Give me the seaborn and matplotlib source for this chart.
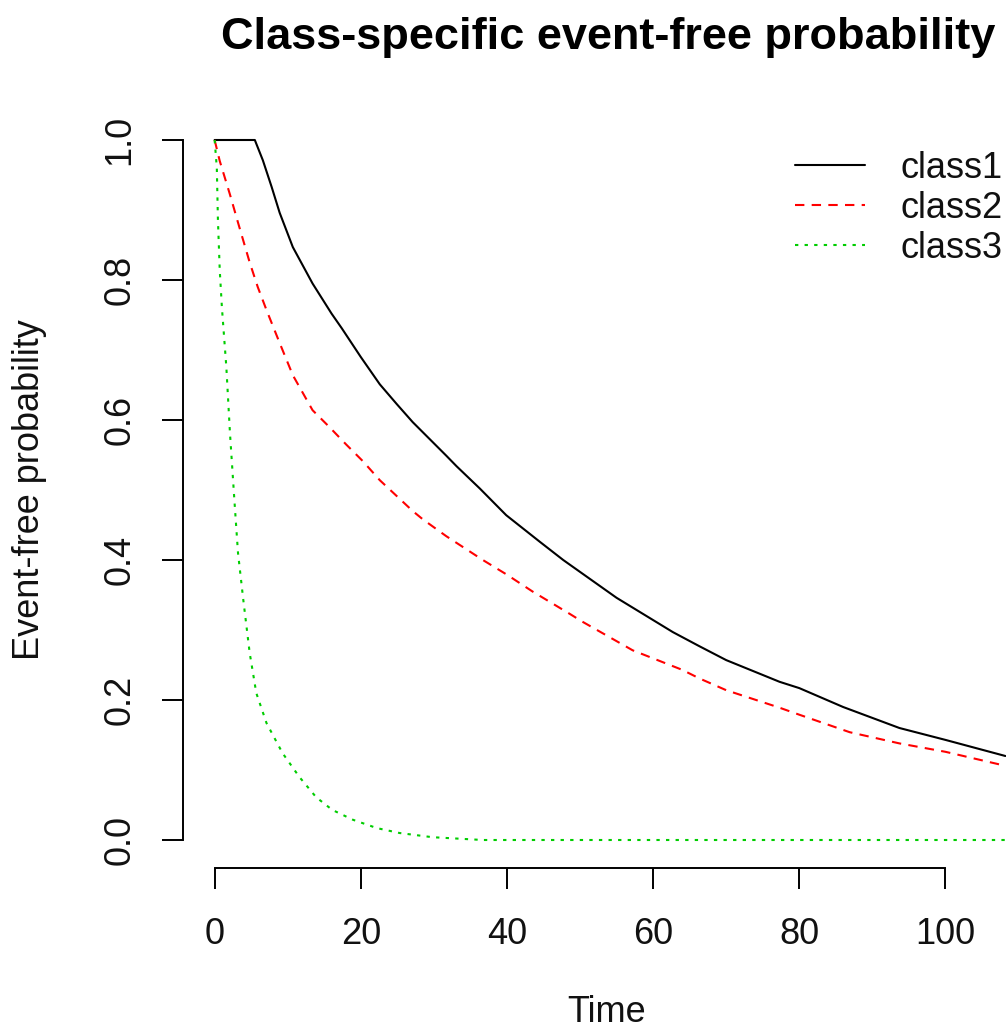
import matplotlib
matplotlib.use("Agg")
import matplotlib.pyplot as plt
from matplotlib.lines import Line2D
import numpy as np
import pandas as pd
import seaborn as sns

# Event-free probability curves per latent class
class1_time = [0, 5.5, 6.6, 7.8, 8.9, 10.7, 13.4, 16.0, 17.4, 20.0, 22.6, 24.9, 27.1,
               31.7, 33.1, 36.3, 39.9, 44.5, 47.7, 55.0, 62.7, 66.3, 70.0, 77.3, 80.0,
               86.0, 93.7, 100.0, 108.2]
class1_prob = [1.0, 1.0, 0.971, 0.933, 0.896, 0.847, 0.795, 0.752, 0.731, 0.690, 0.651,
               0.623, 0.597, 0.549, 0.534, 0.502, 0.464, 0.426, 0.400, 0.346, 0.297,
               0.277, 0.257, 0.226, 0.217, 0.190, 0.160, 0.143, 0.120]

class2_time = [0, 0.7, 2.1, 3.2, 4.8, 5.9, 7.1, 8.9, 10.7, 13.4, 15.7, 18.0, 20.3, 22.6,
               27.1, 28.5, 31.7, 36.7, 40.0, 43.5, 48.6, 50.3, 57.2, 64.0, 66.3, 70.0,
               77.3, 80.0, 86.9, 93.7, 100.0, 108.2]
class2_prob = [1.0, 0.970, 0.922, 0.882, 0.825, 0.790, 0.757, 0.710, 0.664, 0.614, 0.590,
               0.565, 0.541, 0.514, 0.470, 0.458, 0.434, 0.400, 0.379, 0.355, 0.323,
               0.312, 0.271, 0.243, 0.231, 0.214, 0.189, 0.179, 0.154, 0.138, 0.126,
               0.106]

class3_time = [0, 0.3, 0.45, 0.7, 1.0, 1.6, 2.1, 2.7, 3.2, 3.9, 4.8, 5.7, 7.1, 9.3, 11.6,
               13.9, 16.1, 18.9, 22.2, 25.3, 29.8, 36.7, 108.2]
class3_prob = [1.0, 0.960, 0.886, 0.814, 0.760, 0.676, 0.581, 0.486, 0.410, 0.345, 0.267,
               0.210, 0.167, 0.124, 0.090, 0.061, 0.043, 0.029, 0.017, 0.010, 0.004,
               0.0, 0.0]

class_names = ["class1", "class2", "class3"]
class_colors = ["#000000", "#FF0000", "#00CD00"]
class_dashes = [None, (4.5, 3.5), (1.6, 3.0)]

x_ticks = [0, 20, 40, 60, 80, 100]
y_ticks = [0.0, 0.2, 0.4, 0.6, 0.8, 1.0]
y_ticklabels = ["0.0", "0.2", "0.4", "0.6", "0.8", "1.0"]

frames = []
for name, t, p in zip(class_names,
                      [class1_time, class2_time, class3_time],
                      [class1_prob, class2_prob, class3_prob]):
    frames.append(pd.DataFrame({"time": t, "prob": p, "cls": name}))
df = pd.concat(frames, ignore_index=True)

sns.set_style("white")
plt.rcParams["font.family"] = ["Liberation Sans", "DejaVu Sans"]

W, H = 1006, 1028
fig = plt.figure(figsize=(W / 100, H / 100), dpi=100)
ax_left, ax_right, ax_top, ax_bottom = 183, 1037, 112, 868
ax = fig.add_axes([ax_left / W, 1 - ax_bottom / H,
                   (ax_right - ax_left) / W, (ax_bottom - ax_top) / H])

lw = 1.5
for name, col, dsh in zip(class_names, class_colors, class_dashes):
    sub = df[df["cls"] == name]
    sns.lineplot(data=sub, x="time", y="prob", ax=ax, color=col, linewidth=lw,
                 estimator=None, sort=False, legend=False)
    line = ax.get_lines()[-1]
    if dsh is not None:
        line.set_dashes(dsh)

xmax = 108.2
ax.set_xlim(-0.04 * xmax, xmax * 1.04)
ax.set_ylim(-0.04, 1.04)

for s in ["top", "right"]:
    ax.spines[s].set_visible(False)
for s in ["left", "bottom"]:
    ax.spines[s].set_color("black")
    ax.spines[s].set_linewidth(1.4)
ax.spines["left"].set_bounds(0, 1)
ax.spines["bottom"].set_bounds(0, 100)

ax.set_xticks(x_ticks)
ax.set_xticklabels([str(v) for v in x_ticks])
ax.set_yticks(y_ticks)
ax.set_yticklabels(y_ticklabels, rotation=90, va="center")
ax.tick_params(axis="both", which="major", direction="out", length=15, width=1.4,
               color="black", labelsize=26, labelcolor="#111111", left=True, bottom=True)
ax.tick_params(axis="x", pad=20.5)
ax.tick_params(axis="y", pad=18)
ax.set_xlabel("")
ax.set_ylabel("")
ax.grid(False)

center_x = (ax_left + ax_right) / 2 / W
fig.text(center_x - 2 / W, 1 - 38 / H, "Class-specific event-free probability",
         ha="center", va="center", fontsize=32.5, fontweight="bold", color="black")
fig.text(center_x - 3 / W, 1 - 1012 / H, "Time", ha="center", va="center", fontsize=26,
         color="#111111")
fig.text(30 / W, 1 - 490 / H, "Event-free probability", ha="center", va="center",
         rotation=90, fontsize=26, color="#111111")

handles = []
for col, dsh in zip(class_colors, class_dashes):
    h = Line2D([], [], color=col, linewidth=lw)
    if dsh is not None:
        h.set_dashes(dsh)
    handles.append(h)
fig.legend(handles, class_names, loc="upper left",
           bbox_to_anchor=(795 / W, 1 - 151 / H), frameon=False, fontsize=26,
           handlelength=1.94, handletextpad=0.97, labelspacing=0.14,
           borderpad=0, borderaxespad=0, labelcolor="#111111")

fig.savefig("out.png", dpi=100)
